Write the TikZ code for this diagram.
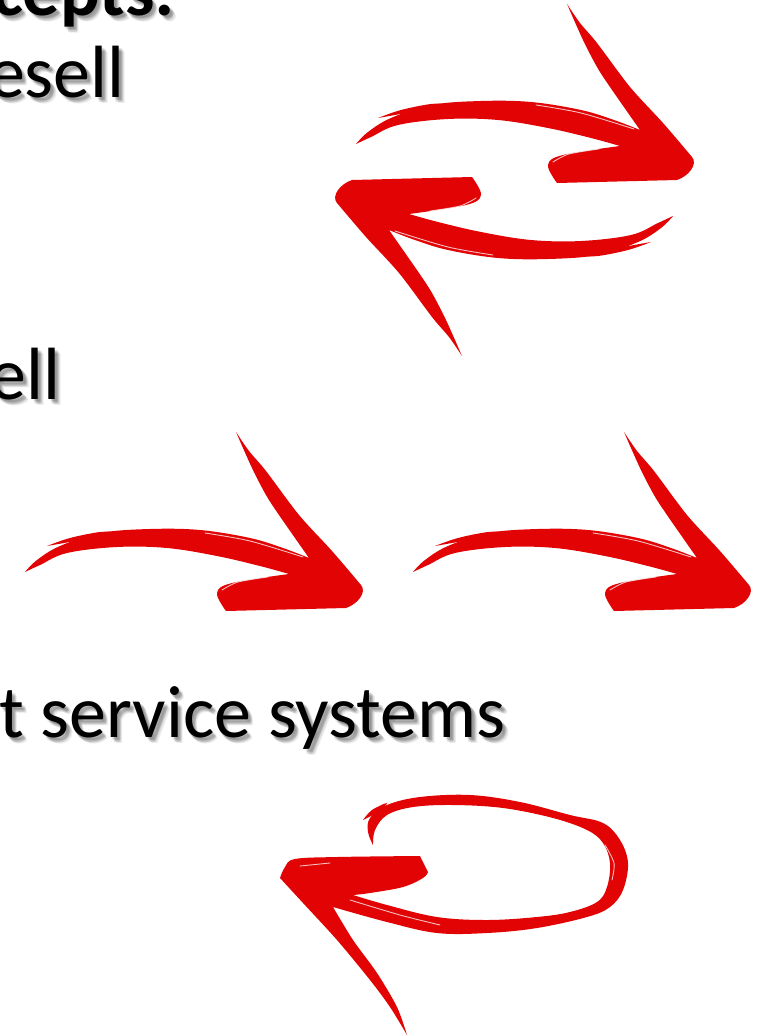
\documentclass[tikz,border=0pt]{standalone}
\usepackage{fontspec}
\setmainfont{Carlito}
\usetikzlibrary{calc}
\definecolor{brushred}{RGB}{226,3,4}
\tikzset{
  txt/.style={anchor=base west, inner sep=0pt, outer sep=0pt, text=black, font=\fontsize{74}{80}\selectfont},
  btxt/.style={txt, font=\fontsize{74}{80}\selectfont\bfseries},
  shd/.style={text=black, text opacity=0.07},
  brush/.style={fill=brushred, draw=none},
  streak/.style={draw=white, line width=0.9pt, opacity=0.75, line cap=round}
}
% shadowed text: #1 = name, #2 = style, #3 = position, #4 = text
\newcommand{\shadowtext}[4]{%
  \node[#2, shd] at ($#3+(1.5,2)$) {#4};
  \node[#2, shd] at ($#3+(2.5,3)$) {#4};
  \node[#2, shd] at ($#3+(3.5,4)$) {#4};
  \node[#2, shd] at ($#3+(4.5,5)$) {#4};
  \node[#2, shd] at ($#3+(5.5,6)$) {#4};
  \node[#2, shd] at ($#3+(3,5)$) {#4};
  \node[#2, shd] at ($#3+(4,3)$) {#4};
  \node[#2] (#1) at #3 {#4};
}
% right-pointing brush arrow in local coordinates
\newcommand{\brusharrow}{%
  \fill[brush] plot[smooth, tension=0.6] coordinates {(25,572) (37,560) (60,546) (100,533) (150,529) (200,530) (250,538) (283,548) (309,558)}
    -- plot[smooth, tension=0.5] coordinates {(309,558) (279,515) (266,495) (252,468) (236,432)}
    -- plot[smooth, tension=0.5] coordinates {(236,432) (249,451) (266,471) (299,515) (332,551) (361,585)}
    .. controls (367,592) and (358,604) .. (346,608)
    -- (226,611)
    -- plot[smooth, tension=0.6] coordinates {(226,611) (217,593) (232,583) (289,574)}
    -- plot[smooth, tension=0.6] coordinates {(289,574) (260,566) (217,556) (167,548) (117,547) (67,553) (40,565) (25,572)}
    -- cycle;
  \fill[brush] plot[smooth, tension=0.6] coordinates {(47,546) (70,538) (100,532) (112,533) (80,540) (47,546)};
  \draw[streak] plot[smooth] coordinates {(205,533) (250,541) (303,557)};
  \draw[streak] plot[smooth] coordinates {(222,590) (238,582) (268,577)};
  \draw[streak] plot[smooth] coordinates {(252,474) (262,490)};
}
\begin{document}
\begin{tikzpicture}[x=1pt, y=-1pt]
\useasboundingbox (0,0) rectangle (760,1036);
\fill[white] (0,0) rectangle (760,1036);

% texts
\shadowtext{t0}{btxt}{(-8,15)}{cepts:}
\shadowtext{t1}{txt}{(-12,97)}{esell}
\shadowtext{t2}{txt}{(-10,399)}{ell}
\shadowtext{t3}{txt}{(-1,737)}{t service systems}

% top pair of arrows
\begin{scope}[shift={(331,-428)}]
  \brusharrow
\end{scope}
\begin{scope}[shift={(698,788)}, rotate=180]
  \brusharrow
\end{scope}

% middle arrows
\begin{scope}
  \brusharrow
\end{scope}
\begin{scope}[shift={(388,0)}]
  \brusharrow
\end{scope}

% bottom loop arrow
\fill[brush] (280,878)
  -- plot[smooth, tension=0.6] coordinates {(280,878) (285,867) (295,859) (337,857) (420,856)}
  -- (428,872)
  -- plot[smooth, tension=0.6] coordinates {(428,872) (423,878) (403,887) (370,893) (353,895)}
  -- plot[smooth, tension=0.6] coordinates {(353,895) (387,905) (437,917) (487,920) (537,917) (570,912) (597,902) (607,887) (610,863) (603,843) (587,830) (553,818) (503,808) (453,805) (413,807) (387,815) (375,830) (373,845)}
  -- plot[smooth, tension=0.6] coordinates {(373,845) (368,832) (370,818) (387,805) (420,797) (470,795) (520,802) (570,815) (603,823) (620,840) (628,863) (623,890) (610,907) (587,917) (537,928) (487,933) (437,933) (387,922) (333,907)}
  -- plot[smooth, tension=0.5] coordinates {(333,907) (353,940) (377,973) (397,1007) (407,1035)}
  -- plot[smooth, tension=0.5] coordinates {(407,1035) (390,1007) (370,980) (337,940) (303,903) (280,878)}
  -- cycle;
\fill[brush] plot[smooth, tension=0.6] coordinates {(363,820) (372,810) (387,803) (378,812) (363,820)};
\draw[streak] plot[smooth] coordinates {(350,900) (400,915) (440,925)};
\draw[streak] plot[smooth] coordinates {(300,866) (330,863)};
\draw[streak] plot[smooth] coordinates {(605,845) (614,863) (612,880)};
\end{tikzpicture}
\end{document}
